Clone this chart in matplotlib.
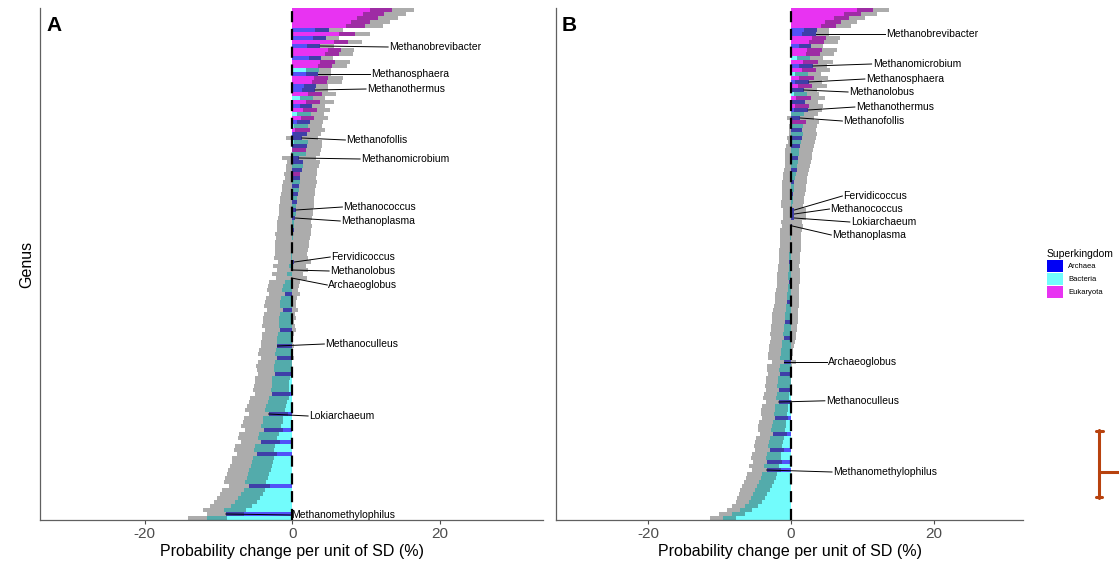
import matplotlib
matplotlib.use("Agg")
import numpy as np
import matplotlib.pyplot as plt
from matplotlib.patches import Patch
from matplotlib.lines import Line2D
from matplotlib.colors import to_rgba

plt.rcParams['font.family'] = ['Liberation Sans', 'DejaVu Sans']

# ---------------------------------------------------------------------------
# Datos (filas ordenadas de arriba hacia abajo)
# A = Archaea, B = Bacteria, E = Eukaryota
# ---------------------------------------------------------------------------
kingdom_names = {'A': 'Archaea', 'B': 'Bacteria', 'E': 'Eukaryota'}
kingdom_colors = {'Archaea': '#0000F5', 'Bacteria': '#72FCFC', 'Eukaryota': '#E833F2'}
bar_alpha = {'Archaea': 0.68, 'Bacteria': 1.0, 'Eukaryota': 1.0}

# Panel A
kingdom_a = list("EEEEEAEA" "EAEEAEEB" "AEEAAEBE" "AEBEABEA"
                 "ABAEBAAB" "AEABABAB" "ABABABBA" "BBABBBBA"
                 "BABABBBA" "BBBABBBB" "ABBBABBA" "BBBABBBB"
                 "ABBBBABB" "BABBABBA" "BBBBBBBA" "BBBBBBAB")
effect_a = [13.5, 12.5, 11.6, 10.6, 9.8, 5.0, 8.5, 4.6,
            7.5, 3.8, 6.6, 6.3, 3.9, 5.8, 5.45, 3.6,
            3.5, 4.9, 4.7, 3.2, 3.1, 4.05, 2.8, 3.7,
            2.7, 3.3, 2.5, 3.0, 2.4, 2.2, 2.4, 2.0,
            1.3, 2.2, 2.0, 1.9, 1.8, 0.9, 1.5, 1.4,
            1.3, 1.1, 1.1, 1.0, 0.9, 0.85, 0.8, 0.7,
            0.65, 0.55, 0.5, 0.45, 0.4, 0.3, 0.3, 0.2,
            0.1, 0.1, 0.0, 0.0, -0.1, -0.2, -0.2, 0.3,
            -0.4, 0.0, -0.7, -0.1, -1.0, -1.2, -1.35, -1.0,
            -1.5, -1.6, -1.65, -1.3, -1.7, -1.75, -1.8, -1.85,
            -1.6, -1.95, -2.0, -2.05, -2.0, -2.2, -2.3, -2.0,
            -2.4, -2.5, -2.5, -2.3, -2.7, -2.8, -2.8, -2.9,
            -2.7, -3.1, -3.3, -3.5, -3.7, -3.2, -3.9, -4.0,
            -4.2, -3.8, -4.5, -4.7, -4.3, -5.0, -5.2, -4.8,
            -5.3, -5.4, -5.6, -5.8, -6.0, -6.2, -6.4, -5.8,
            -6.6, -6.9, -7.3, -7.7, -8.3, -9.2, -9.0, -11.5]
err_a = [3.0, 2.9, 2.8, 2.6, 2.5, 1.9, 2.1, 1.8,
         1.9, 1.8, 1.8, 1.9, 1.6, 2.0, 2.0, 1.7,
         1.7, 2.0, 2.0, 1.6, 1.8, 1.9, 1.7, 1.9,
         1.7, 1.8, 1.8, 1.8, 1.8, 1.9, 2.0, 1.9,
         2.2, 1.9, 2.0, 2.0, 2.0, 2.3, 2.2, 2.2,
         2.1, 2.2, 2.1, 2.3, 2.3, 2.3, 2.3, 2.3,
         2.3, 2.4, 2.3, 2.3, 2.3, 2.3, 2.4, 2.3,
         2.4, 2.3, 2.3, 2.3, 2.3, 2.2, 2.3, 2.2,
         2.2, 2.1, 2.1, 2.1, 2.1, 2.1, 2.1, 2.1,
         2.1, 2.1, 2.2, 2.1, 2.1, 2.2, 2.1, 2.2,
         2.1, 2.2, 2.1, 2.2, 2.2, 2.3, 2.3, 2.2,
         2.3, 2.4, 2.3, 2.3, 2.4, 2.3, 2.4, 2.4,
         2.4, 2.6, 2.6, 2.6, 2.7, 2.6, 2.7, 2.7,
         2.7, 2.6, 2.7, 2.7, 2.6, 2.7, 2.7, 2.7,
         2.8, 2.8, 2.8, 2.9, 2.9, 2.9, 2.9, 2.8,
         2.9, 2.9, 2.9, 2.9, 2.9, 2.9, 2.5, 2.6]
labels_a = ["Methanobrevibacter", "Methanosphaera", "Methanothermus", "Methanofollis",
            "Methanomicrobium", "Methanococcus", "Methanoplasma", "Fervidicoccus",
            "Methanolobus", "Archaeoglobus", "Methanoculleus", "Lokiarchaeum",
            "Methanomethylophilus"]
label_rows_a = [9, 16, 20, 32, 37, 50, 52, 63, 65, 67, 84, 101, 126]

# Panel B
kingdom_b = list("EEEEEAAE" "EAEEBEAE" "BEAEABEA" "EABAEBAB"
                 "ABABBABB" "ABBABBAB" "BBAAABAB" "BBABBBBA"
                 "BBBBABBB" "BABBBBAB" "BBABBBBB" "ABBABBBA"
                 "BBABBBAB" "BBABBBAB" "BABABBBB" "BBBBBBBB")
effect_b = [11.5, 9.8, 8.2, 7.0, 6.3, 3.6, 3.5, 4.9,
            4.6, 2.8, 4.3, 4.1, 2.7, 3.75, 3.1, 3.5,
            2.4, 3.2, 2.5, 3.0, 1.8, 2.2, 2.75, 2.0,
            2.55, 2.4, 1.9, 1.3, 2.1, 1.7, 1.6, 1.7,
            1.5, 1.45, 1.3, 1.15, 1.1, 1.0, 0.95, 0.9,
            0.8, 0.7, 0.6, 0.5, 0.45, 0.4, 0.35, 0.3,
            0.25, 0.2, 0.5, 0.5, 0.5, 0.05, 0.2, 0.0,
            -0.05, -0.1, -0.05, -0.1, -0.15, -0.2, -0.2, -0.2,
            -0.3, -0.3, -0.35, -0.35, -0.3, -0.4, -0.45, -0.5,
            -0.55, -0.5, -0.65, -0.7, -0.8, -0.85, -0.8, -0.95,
            -1.0, -1.1, -1.0, -1.2, -1.3, -1.35, -1.45, -1.5,
            -1.0, -1.6, -1.65, -1.5, -1.75, -1.8, -1.9, -1.7,
            -2.0, -2.05, -1.7, -2.2, -2.3, -2.4, -2.2, -2.55,
            -2.65, -2.75, -2.5, -2.9, -3.05, -3.2, -3.0, -3.4,
            -3.55, -3.3, -3.75, -3.4, -4.0, -4.2, -4.45, -4.7,
            -5.0, -5.3, -5.6, -5.9, -6.4, -7.2, -8.3, -9.5]
err_b = [2.3, 2.3, 2.2, 2.2, 2.1, 1.8, 1.9, 2.0,
         2.0, 1.7, 2.1, 2.0, 1.8, 2.1, 1.9, 2.0,
         1.8, 2.0, 1.9, 2.0, 1.8, 1.8, 2.0, 1.8,
         2.0, 1.9, 1.9, 1.9, 1.9, 1.9, 1.9, 2.0,
         2.0, 1.9, 2.0, 1.95, 1.9, 1.9, 1.8, 1.8,
         1.8, 1.75, 1.7, 1.7, 1.7, 1.65, 1.6, 1.6,
         1.6, 1.55, 1.6, 1.6, 1.6, 1.5, 1.5, 1.5,
         1.5, 1.5, 1.5, 1.5, 1.5, 1.5, 1.5, 1.5,
         1.5, 1.55, 1.6, 1.6, 1.6, 1.6, 1.65, 1.7,
         1.7, 1.7, 1.75, 1.75, 1.8, 1.8, 1.8, 1.8,
         1.8, 1.8, 1.75, 1.75, 1.75, 1.7, 1.7, 1.7,
         1.7, 1.7, 1.75, 1.7, 1.75, 1.75, 1.8, 1.8,
         1.8, 1.8, 1.8, 1.85, 1.85, 1.85, 1.85, 1.9,
         1.9, 1.9, 1.9, 1.95, 2.0, 2.0, 2.0, 2.05,
         2.1, 2.0, 2.1, 2.0, 2.1, 2.1, 2.1, 2.1,
         2.1, 2.0, 1.9, 1.8, 1.8, 1.8, 1.8, 1.8]
labels_b = ["Methanobrevibacter", "Methanomicrobium", "Methanosphaera", "Methanolobus",
            "Methanothermus", "Methanofollis", "Fervidicoccus", "Methanococcus",
            "Lokiarchaeum", "Methanoplasma", "Archaeoglobus", "Methanoculleus",
            "Methanomethylophilus"]
label_rows_b = [6, 14, 18, 20, 25, 27, 50, 51, 52, 54, 88, 98, 115]

# Posicion de las etiquetas (x en %, y en fila)
text_pos_a = [(13.0, 9.25), (10.6, 16), (10.0, 19.75), (7.2, 32.5), (9.2, 37.25),
              (6.8, 49.25), (6.5, 52.75), (5.15, 61.75), (5.0, 65.25), (4.75, 68.75),
              (4.35, 83.5), (2.15, 101.5), (-0.25, 126.25)]
text_pos_b = [(13.15, 6), (11.3, 13.5), (10.35, 17.25), (8.0, 20.5), (8.95, 24.25),
              (7.2, 27.75), (7.2, 46.5), (5.4, 49.75), (8.25, 53), (5.65, 56.25),
              (5.05, 88), (4.75, 97.7), (5.75, 115.5)]

xticks = [-20, 0, 20]
xtick_labels = ["-20", "0", "20"]
xlabel = "Probability change per unit of SD (%)"


def draw_panel(ax, kingdoms, effect, err, names, rows, text_pos, xlim, letter):
    effect = np.array(effect)
    err = np.array(err)
    y = np.arange(len(effect))
    cols = [to_rgba(kingdom_colors[kingdom_names[k]], bar_alpha[kingdom_names[k]])
            for k in kingdoms]

    # barras y barras de error
    ax.barh(y, effect, height=1.0, color=cols, linewidth=0, zorder=2)
    ax.barh(y, 2 * err, left=effect - err, height=1.0, color='#202020',
            alpha=0.37, linewidth=0, zorder=3)
    ax.axvline(0, color='black', lw=1.6, ls=(0, (5, 3)), zorder=4)

    # etiquetas de genero
    for name, r, (tx, ty) in zip(names, rows, text_pos):
        ax.plot([effect[r], tx], [r, ty], color='black', lw=0.7, zorder=5)
        ax.text(tx + 0.15, ty, name, fontsize=7.5, ha='left', va='center', zorder=6)

    ax.set_ylim(len(effect) - 0.5, -0.5)
    ax.set_xlim(xlim)
    ax.set_yticks([])
    ax.set_xticks(xticks)
    ax.set_xticklabels(xtick_labels)
    ax.tick_params(axis='x', labelsize=11, colors='#4D4D4D', length=3, width=0.8, pad=2)
    for s in ['top', 'right']:
        ax.spines[s].set_visible(False)
    for s in ['left', 'bottom']:
        ax.spines[s].set_color('#606060')
        ax.spines[s].set_linewidth(0.9)
    ax.set_xlabel(xlabel, fontsize=11.5, labelpad=2)
    ax.text(0.012, 0.985, letter, transform=ax.transAxes, fontsize=15,
            fontweight='bold', va='top', ha='left')


W, H = 1119, 563
fig = plt.figure(figsize=(W / 100, H / 100), dpi=100)
axA = fig.add_axes([40 / W, 43 / H, 503 / W, 512 / H])
axB = fig.add_axes([556 / W, 43 / H, 467 / W, 512 / H])

draw_panel(axA, kingdom_a, effect_a, err_a, labels_a, label_rows_a, text_pos_a, (-34.2, 34.0), 'A')
draw_panel(axB, kingdom_b, effect_b, err_b, labels_b, label_rows_b, text_pos_b, (-32.9, 32.5), 'B')
axA.set_ylabel("Genus", fontsize=11.5, labelpad=4)

# Leyenda
handles = [Patch(facecolor=kingdom_colors[k], edgecolor='none', label=k)
           for k in ['Archaea', 'Bacteria', 'Eukaryota']]
leg = fig.legend(handles=handles, title="Superkingdom", loc='upper left',
                 bbox_to_anchor=(1047 / W, 1 - 249 / H), frameon=False,
                 fontsize=5.5, title_fontsize=7.5, handlelength=2.1, handleheight=2.1,
                 labelspacing=0.1, handletextpad=0.7, borderpad=0, borderaxespad=0,
                 alignment='left')

# marca roja a la derecha
rust = '#B8420E'
for (x0, y0, x1, y1) in [(1099, 430, 1099, 498), (1099, 472, 1119, 472),
                         (1096, 431, 1103, 431), (1096, 497, 1102, 497)]:
    fig.add_artist(Line2D([x0 / W, x1 / W], [1 - y0 / H, 1 - y1 / H],
                          transform=fig.transFigure, color=rust, lw=2.2,
                          solid_capstyle='round'))

fig.savefig("out.png", dpi=100)
